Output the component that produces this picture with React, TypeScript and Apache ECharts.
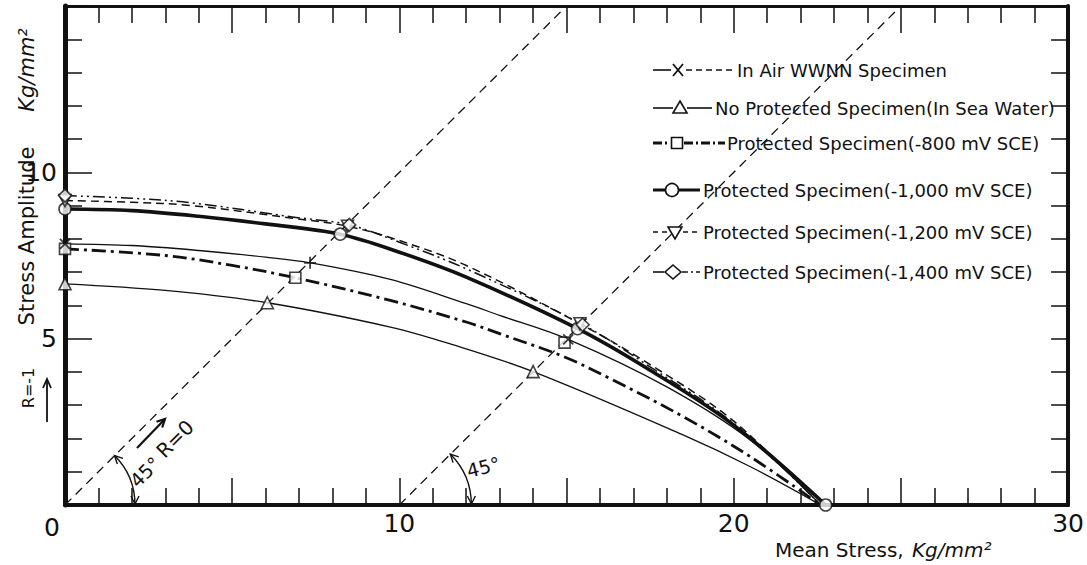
import React, { useEffect, useRef } from "react";
import * as echarts from "echarts";

const FONT = "DejaVu Sans";

// axis ranges and tick labels
const xMin = 0;
const xMax = 30;
const yMin = 0;
const yMax = 15;
const xTickLabels = ["10", "20", "30"];
const yTickLabels = ["5", "10"];

// curves: [mean stress, stress amplitude]  (Kg/mm^2)
const inAirCurve = [[0, 7.85], [2, 7.8], [4, 7.65], [6, 7.45], [7.33, 7.28], [9.73, 6.78], [12, 6.05], [13, 5.7], [15.05, 4.98], [18, 3.55], [20.5, 1.95], [22.6, 0]];
const noProtCurve = [[0, 6.65], [3, 6.45], [6.05, 6.08], [9.73, 5.35], [11.5, 4.85], [14, 4.01], [18.5, 2.1], [20.5, 1.15], [22.6, 0]];
const p800Curve = [[0, 7.7], [3, 7.5], [5, 7.2], [6.89, 6.83], [9.73, 6.15], [12, 5.5], [13, 5.15], [14.94, 4.45], [16.3, 3.8], [18.5, 2.65], [20.5, 1.45], [22.6, 0]];
const p1000Curve = [[0, 8.9], [2, 8.85], [4, 8.68], [6, 8.45], [8.23, 8.14], [10, 7.6], [12, 6.85], [15.33, 5.3], [17.5, 4.05], [20, 2.4], [22.75, 0]];
const p1200Curve = [[0, 9.15], [2, 9.1], [3.8, 9.0], [6.8, 8.62], [8.45, 8.38], [10, 7.95], [12, 7.2], [15.4, 5.45], [17.5, 4.22], [20, 2.52], [22.6, 0]];
const p1400Curve = [[0, 9.3], [2, 9.22], [3.8, 9.08], [6.8, 8.66], [8.5, 8.42], [10, 7.9], [12, 7.1], [15.48, 5.42], [17.5, 4.15], [20, 2.45], [22.6, 0]];

// test-point markers
const inAirCross = [[0, 7.85], [15.05, 4.98]];
const inAirPlus = [[7.33, 7.28]];
const noProtMarks = [[0, 6.65], [6.05, 6.08], [14, 4.01]];
const p800Marks = [[0, 7.7], [6.89, 6.83], [14.94, 4.88]];
const p1000Marks = [[0, 8.9], [8.23, 8.14], [15.33, 5.3], [22.75, 0]];
const p1200Marks = [[0, 9.15], [8.45, 8.38], [15.4, 5.45]];
const p1400Marks = [[0, 9.3], [8.5, 8.42], [15.48, 5.42]];

// reference lines (R = 0 and its 45° shift)
const r0Line = [[0, 0], [15, 15]];
const shiftLine = [[10, 0], [25, 15]];

const legendNames = [
  "In Air WWNN Specimen",
  "No Protected Specimen(In Sea Water)",
  "Protected Specimen(-800 mV SCE)",
  "Protected Specimen(-1,000 mV SCE)",
  "Protected Specimen(-1,200 mV SCE)",
  "Protected Specimen(-1,400 mV SCE)",
];

export default function App() {
  const ref = useRef<HTMLDivElement>(null);
  useEffect(() => {
    const chart = echarts.init(ref.current!, null, { renderer: "svg" });
    const ink = "#111";
    const tickStyle = { color: ink, width: 1.5 };

    const line = (data: number[][], lineStyle: any, z = 2, smooth: number | boolean = 0.35) => ({
      type: "line", data, symbol: "none", showSymbol: false, smooth,
      silent: true, z, lineStyle: { color: ink, ...lineStyle },
    });
    const marks = (data: number[][], symbol: string, size: number, rotate = 0, bw = 1.6) => ({
      type: "scatter", data, symbol, symbolSize: size, symbolRotate: rotate, silent: true, z: 5,
      itemStyle: { color: "#fff", borderColor: ink, borderWidth: bw },
    });
    const crossPath = "path://M0,0L10,10M10,0L0,10";
    const plusPath = "path://M5,0L5,10M0,5L10,5";

    const xAxisBase = (position: string, showLabel: boolean) => ({
      type: "value", min: xMin, max: xMax, interval: 5, position,
      axisLine: { show: true, onZero: false, lineStyle: { color: ink, width: position === "top" ? 3 : 4 } },
      axisTick: { show: true, inside: true, length: 27, lineStyle: tickStyle },
      minorTick: { show: true, splitNumber: 5, length: 17, lineStyle: tickStyle },
      splitLine: { show: false }, minorSplitLine: { show: false },
      axisLabel: {
        show: showLabel, margin: 6, color: ink, fontFamily: FONT, fontSize: 25,
        formatter: (v: number) => (xTickLabels.includes(String(v)) ? String(v) : ""),
      },
    });

    chart.setOption({
      animation: false,
      backgroundColor: "#fff",
      grid: { left: 65, top: 6, width: 1005, height: 499 },
      xAxis: [xAxisBase("bottom", true), xAxisBase("top", false)],
      yAxis: [
        {
          type: "value", min: yMin, max: yMax, interval: 5, position: "left",
          axisLine: { show: true, onZero: false, lineStyle: { color: ink, width: 5 } },
          axisTick: { show: true, inside: true, length: 27, lineStyle: tickStyle },
          minorTick: { show: true, splitNumber: 5, length: 17, lineStyle: tickStyle },
          splitLine: { show: false }, minorSplitLine: { show: false },
          axisLabel: {
            margin: 8, color: ink, fontFamily: FONT, fontSize: 25,
            formatter: (v: number) => (yTickLabels.includes(String(v)) ? String(v) : ""),
          },
        },
        {
          type: "value", min: yMin, max: yMax, interval: 1, position: "right",
          axisLine: { show: true, onZero: false, lineStyle: { color: ink, width: 4 } },
          axisTick: { show: true, inside: true, length: 17, lineStyle: tickStyle },
          splitLine: { show: false },
          axisLabel: { show: false },
        },
      ],
      series: [
        line(r0Line, { width: 1.3, type: [9, 6] }, 1, false),
        line(shiftLine, { width: 1.3, type: [9, 6] }, 1, false),
        line(noProtCurve, { width: 1.3 }),
        line(inAirCurve, { width: 1.3 }),
        line(p800Curve, { width: 2.8, type: [14, 5, 3, 5] }),
        line(p1000Curve, { width: 3.6 }),
        line(p1200Curve, { width: 1.5, type: [8, 5] }),
        line(p1400Curve, { width: 1.5, type: [12, 4, 2, 4, 2, 4] }),
        marks(noProtMarks, "triangle", 12),
        marks(p800Marks, "rect", 11),
        marks(p1000Marks, "circle", 12),
        marks(p1200Marks, "triangle", 12, 180),
        marks(p1400Marks, "diamond", 13),
        marks(inAirCross, crossPath, 10, 0, 1.8),
        marks(inAirPlus, plusPath, 12, 0, 1.8),
      ],
    });

    const px = (p: number[]) => chart.convertToPixel({ gridIndex: 0 }, p) as number[];
    const g: any[] = [];
    const txt = (x: number, y: number, text: string, size: number, o: any = {}) => ({
      type: "text", x, y, rotation: o.rot || 0, silent: true, z: 10,
      style: {
        text, fill: ink, fontSize: size, fontFamily: FONT, fontStyle: o.italic ? "italic" : "normal",
        textAlign: o.align || "left", textVerticalAlign: "middle", align: o.align || "left", verticalAlign: "middle",
      },
    });
    const seg = (x1: number, y1: number, x2: number, y2: number, w: number, dash?: number[]) => ({
      type: "line", silent: true, z: 10, shape: { x1, y1, x2, y2 },
      style: { stroke: ink, lineWidth: w, lineDash: dash || null },
    });
    const poly = (points: number[][], w = 1.4) => ({
      type: "polyline", silent: true, z: 10, shape: { points }, style: { stroke: ink, fill: "none", lineWidth: w },
    });
    const hollow = { fill: "#fff", stroke: ink, lineWidth: 1.6 };

    // legend
    const ly = [70, 108, 143, 190, 232, 272];
    const tx = [737, 715, 727, 703, 703, 703];
    g.push(seg(653, ly[0], 671, ly[0], 1.6), seg(686, ly[0], 733, ly[0], 1.6, [6, 4]));
    g.push(seg(673, ly[0] - 6, 683, ly[0] + 6, 1.8), seg(683, ly[0] - 6, 673, ly[0] + 6, 1.8));
    g.push(seg(653, ly[1], 673, ly[1], 1.6), seg(687, ly[1], 712, ly[1], 1.6));
    g.push({ type: "polygon", silent: true, z: 11, shape: { points: [[680, ly[1] - 7], [687, ly[1] + 5], [673, ly[1] + 5]] }, style: hollow });
    g.push(seg(653, ly[2], 670, ly[2], 3, [9, 3, 2, 3]), seg(684, ly[2], 725, ly[2], 3, [9, 3, 2, 3]));
    g.push({ type: "rect", silent: true, z: 11, shape: { x: 671.5, y: ly[2] - 5.5, width: 11, height: 11 }, style: hollow });
    g.push(seg(653, ly[3], 665, ly[3], 3), seg(679, ly[3], 700, ly[3], 3));
    g.push({ type: "circle", silent: true, z: 11, shape: { cx: 672, cy: ly[3], r: 6.5 }, style: hollow });
    g.push(seg(653, ly[4], 667, ly[4], 1.6, [5, 4]), seg(683, ly[4], 700, ly[4], 1.6, [5, 4]));
    g.push({ type: "polygon", silent: true, z: 11, shape: { points: [[668, ly[4] - 5], [682, ly[4] - 5], [675, ly[4] + 7]] }, style: hollow });
    g.push(seg(653, ly[5], 664, ly[5], 1.6), seg(682, ly[5], 700, ly[5], 1.6, [6, 3, 2, 3]));
    g.push({ type: "polygon", silent: true, z: 11, shape: { points: [[673, ly[5] - 7], [681, ly[5]], [673, ly[5] + 7], [665, ly[5]]] }, style: hollow });
    legendNames.forEach((n, i) => g.push(txt(tx[i], ly[i], n, 18)));

    // axis names
    g.push(txt(27, 236, "Stress Amplitude", 21, { rot: Math.PI / 2, align: "center" }));
    g.push(txt(27, 70, "Kg/mm²", 21, { rot: Math.PI / 2, align: "center", italic: true }));
    g.push(txt(775, 550, "Mean Stress,", 20));
    g.push(txt(912, 550, "Kg/mm²", 20, { italic: true }));
    g.push(txt(52, 527, "0", 25, { align: "center" }));

    // R=-1 arrow
    g.push(txt(28, 388, "R=-1", 16, { rot: Math.PI / 2, align: "center" }));
    g.push(seg(47, 422, 47, 380, 1.8), poly([[43, 388], [47, 379], [51, 388]], 1.8));

    // 45° arcs
    const c = Math.SQRT1_2;
    const arc = (cx: number, cy: number, r: number) => {
      g.push({ type: "arc", silent: true, z: 10, shape: { cx, cy, r, startAngle: -Math.PI / 4, endAngle: 0, clockwise: true }, style: { stroke: ink, fill: "none", lineWidth: 1.4 } });
      const t1 = [cx + r, cy - 1];
      g.push(poly([[t1[0] - 4, t1[1] - 8], t1, [t1[0] + 4, t1[1] - 8]]));
      const t2 = [cx + r * c, cy - r * c];
      g.push(poly([[t2[0] + 8.5, t2[1] + 2.8], t2, [t2[0] + 2.8, t2[1] + 8.5]]));
    };
    const [ox, oy] = px([0, 0]);
    const [sx, sy] = px([10, 0]);
    arc(ox, oy, 70);
    arc(sx, sy, 72);
    g.push(txt(ox + 80, oy - 33, "45°", 19, { rot: Math.PI / 4, align: "center" }));
    g.push(txt(sx + 84, sy - 38, "45°", 19, { rot: 0.25, align: "center" }));
    const a0 = [ox + 72, oy - 57];
    const a1 = [ox + 100, oy - 86];
    g.push(seg(a0[0], a0[1], a1[0], a1[1], 2.2), poly([[a1[0] - 2.8, a1[1] + 8.5], a1, [a1[0] - 8.5, a1[1] + 2.8]], 2.2));
    g.push(txt(ox + 110, oy - 66, "R=0", 20, { rot: Math.PI / 4, align: "center" }));

    chart.setOption({ graphic: g });
    return () => chart.dispose();
  }, []);
  return (
    <div
      ref={ref}
      style={{ position: "fixed", left: 0, top: 0, width: 1087, height: 565, background: "#fff" }}
    />
  );
}
